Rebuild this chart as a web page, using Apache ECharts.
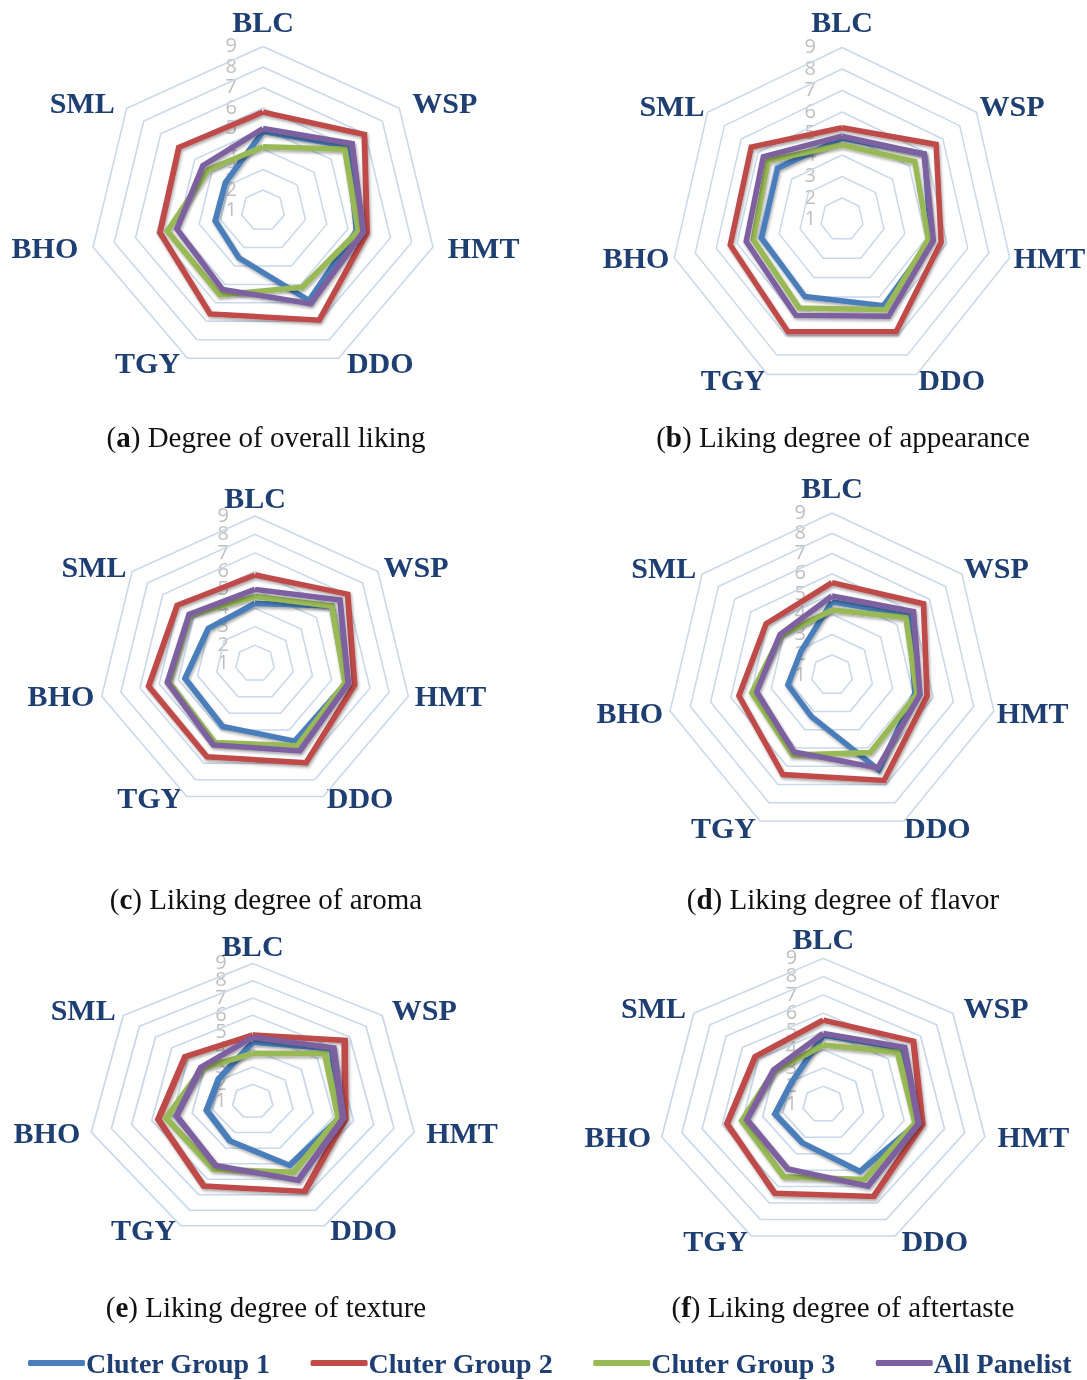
<!DOCTYPE html>
<html>
<head>
<meta charset="utf-8">
<script src="https://cdn.jsdelivr.net/npm/echarts@6/dist/echarts.min.js"></script>
<style>
  html, body { margin: 0; padding: 0; background: #ffffff; }
  #wrap { position: relative; width: 1087px; height: 1380px; overflow: hidden; }
  .layer { position: absolute; left: 0; top: 0; width: 1087px; height: 1380px; }
  .panel { pointer-events: none; }
</style>
</head>
<body>
<div id="wrap">
  <div id="main" class="layer"></div>
</div>
<script>
// Tea samples, listed clockwise from the top of each radar
const categories = ['BLC', 'WSP', 'HMT', 'DDO', 'TGY', 'BHO', 'SML'];
const groupNames = ['Cluter Group 1', 'Cluter Group 2', 'Cluter Group 3', 'All Panelist'];
const tickLabels = ['1', '2', '3', '4', '5', '6', '7', '8', '9'];

// (a) overall liking
const overallG1 = [4.85, 6.0, 5.4, 5.87, 3.56, 3.25, 3.2];
const overallG2 = [5.8, 6.95, 5.9, 6.94, 6.6, 5.85, 5.94];
const overallG3 = [4.11, 5.8, 5.49, 5.15, 5.57, 5.5, 4.2];
const overallAll = [5.0, 6.23, 5.72, 6.05, 5.28, 5.05, 4.52];

// (b) appearance
const appearanceG1 = [4.78, 5.9, 5.25, 5.45, 4.98, 4.84, 4.83];
const appearanceG2 = [5.27, 6.6, 5.73, 6.8, 6.8, 6.33, 6.4];
const appearanceG3 = [4.47, 5.33, 5.12, 5.66, 5.57, 5.23, 5.4];
const appearanceAll = [4.88, 5.88, 5.36, 6.0, 5.95, 5.57, 5.68];

// (c) aroma
const aromaG1 = [4.26, 6.0, 5.75, 5.67, 4.79, 4.65, 4.04];
const aromaG2 = [5.8, 7.03, 6.2, 6.98, 6.62, 6.55, 6.06];
const aromaG3 = [4.63, 6.0, 5.7, 5.95, 5.75, 5.5, 5.25];
const aromaAll = [5.02, 6.53, 5.87, 6.26, 5.9, 5.57, 5.28];

// (d) flavor
const flavorG1 = [4.62, 5.75, 5.1, 6.2, 3.28, 3.18, 2.9];
const flavorG2 = [5.56, 6.64, 5.7, 6.78, 6.46, 5.6, 5.06];
const flavorG3 = [4.21, 5.55, 5.2, 5.25, 5.38, 4.96, 4.15];
const flavorAll = [4.9, 6.02, 5.35, 6.09, 5.22, 4.72, 4.2];

// (e) texture
const textureG1 = [4.43, 5.9, 5.3, 5.11, 3.54, 3.28, 3.1];
const textureG2 = [4.85, 6.68, 5.59, 6.79, 6.44, 5.68, 5.17];
const textureG3 = [3.79, 5.47, 5.25, 5.55, 5.36, 5.29, 4.1];
const textureAll = [4.72, 5.99, 5.48, 6.07, 5.12, 4.77, 4.19];

// (f) aftertaste
const aftertasteG1 = [4.8, 5.9, 5.65, 5.08, 3.34, 3.39, 2.95];
const aftertasteG2 = [5.62, 6.56, 5.92, 6.6, 6.4, 5.77, 5.2];
const aftertasteG3 = [4.25, 5.59, 5.55, 5.57, 5.4, 5.03, 4.0];
const aftertasteAll = [4.89, 6.01, 5.72, 5.97, 4.93, 4.78, 4.05];

// Panel layout: centre, vertical radius, horizontal stretch of the web,
// caption anchor and the extra room each sample name gets ([top, right, bottom, left]);
// topLine (optional) tightens the line box of the name above the web
const panels = [
  { id: 'a', caption: ' Degree of overall liking', groups: [overallG1, overallG2, overallG3, overallAll],
    center: [263, 210.5], radius: 164, stretch: 1.063, captionAt: [266, 425],
    pads: { BLC: [0, 0, 3, 0], WSP: [0, 0, 2, 18], HMT: [4, 0, 0, 21], DDO: [6, 0, 0, 11],
            TGY: [6, 10, 0, 0], BHO: [4, 21, 0, 0], SML: [0, 17, 2, 0] } },
  { id: 'b', caption: ' Liking degree of appearance', groups: [appearanceG1, appearanceG2, appearanceG3, appearanceAll],
    center: [842, 219.5], radius: 172, stretch: 1.0, captionAt: [843, 425],
    pads: { BLC: [0, 0, 4, 0], WSP: [0, 0, 4, 0], HMT: [4, 0, 0, 0], DDO: [8, 0, 0, 0],
            TGY: [8, 0, 0, 0], BHO: [4, 1, 0, 0], SML: [0, 0, 4, 0] } },
  { id: 'c', caption: ' Liking degree of aroma', groups: [aromaG1, aromaG2, aromaG3, aromaAll],
    center: [255, 663.5], radius: 147.5, stretch: 1.066, captionAt: [266, 887], topLine: 24,
    pads: { BLC: [0, 0, 0, 0], WSP: [0, 0, 0, 10], HMT: [2, 0, 0, 12], DDO: [0, 0, 0, 6],
            TGY: [0, 7, 0, 0], BHO: [2, 13, 0, 0], SML: [0, 10, 0, 0] } },
  { id: 'd', caption: ' Liking degree of flavor', groups: [flavorG1, flavorG2, flavorG3, flavorAll],
    center: [832, 675], radius: 162, stretch: 1.025, captionAt: [843, 887],
    pads: { BLC: [0, 0, 4, 0], WSP: [0, 0, 3, 2], HMT: [6, 0, 0, 3], DDO: [11, 0, 0, 0],
            TGY: [11, 4, 0, 0], BHO: [6, 7, 0, 0], SML: [0, 6, 3, 0] } },
  { id: 'e', caption: ' Liking degree of texture', groups: [textureG1, textureG2, textureG3, textureAll],
    center: [252.7, 1101.5], radius: 138, stretch: 1.2, captionAt: [266, 1295], topLine: 22,
    pads: { BLC: [0, 0, 0, 0], WSP: [0, 0, 2, 28], HMT: [4, 0, 0, 35], DDO: [6, 0, 0, 16],
            TGY: [6, 15, 0, 0], BHO: [4, 34, 0, 0], SML: [0, 26, 2, 0] } },
  { id: 'f', caption: ' Liking degree of aftertaste', groups: [aftertasteG1, aftertasteG2, aftertasteG3, aftertasteAll],
    center: [823.3, 1104.4], radius: 146, stretch: 1.135, captionAt: [843, 1295], topLine: 26,
    pads: { BLC: [0, 0, 0, 0], WSP: [0, 0, 2, 23], HMT: [2, 0, 0, 28], DDO: [8, 0, 0, 13],
            TGY: [8, 10, 0, 0], BHO: [2, 26, 0, 0], SML: [0, 20, 2, 0] } }
];

const lineColors = ['#4A7EBB', '#BE4B48', '#98B954', '#7D60A0'];
const nameColor = '#1F3F73';
const serif = '"Liberation Serif", "Times New Roman", serif';
const nameFont = { color: nameColor, fontFamily: serif, fontWeight: 'bold', fontSize: 30 };
const tickMargin = 26;

// ECharts lays indicators out counter-clockwise from the top, so walk the list backwards after BLC
const ccwOrder = [0, 6, 5, 4, 3, 2, 1];

function indicatorList() {
  return ccwOrder.map(function (i) {
    return { name: categories[i], min: 1, max: 9 };
  });
}

// Names sit on an unstretched copy of each web
const labelRadars = panels.map(function (p) {
  const rich = {};
  categories.forEach(function (c) {
    rich[c] = Object.assign({ padding: p.pads[c] }, nameFont);
    if (c === 'BLC' && p.topLine) rich[c].lineHeight = p.topLine;
  });
  return {
    center: p.center,
    radius: p.radius,
    startAngle: 90,
    splitNumber: 8,
    shape: 'polygon',
    indicator: indicatorList(),
    nameGap: 4,
    axisName: Object.assign({ rich: rich, formatter: function (n) { return '{' + n + '|' + n + '}'; } }, nameFont),
    axisLabel: { show: false },
    axisLine: { show: false },
    axisTick: { show: false },
    splitArea: { show: false },
    splitLine: { show: false }
  };
});

const titles = panels.map(function (p) {
  return {
    text: '({b|' + p.id + '})' + p.caption,
    left: p.captionAt[0],
    top: p.captionAt[1],
    textAlign: 'center',
    padding: 0,
    textStyle: {
      fontFamily: serif, fontSize: 29, fontWeight: 'normal', color: '#111111',
      rich: { b: { fontFamily: serif, fontSize: 29, fontWeight: 'bold', color: '#111111' } }
    }
  };
});

const mainChart = echarts.init(document.getElementById('main'), null, { renderer: 'canvas' });
mainChart.setOption({
  animation: false,
  title: titles,
  radar: labelRadars
});

// Value labels 1..9 climb the BLC axis; place them through each radar's own scale
const tickGraphics = [];
const ecModel = mainChart.getModel();
panels.forEach(function (p, i) {
  const radarModel = ecModel.getComponent('radar', i);
  const cs = radarModel && radarModel.coordinateSystem;
  if (!cs) return;
  tickLabels.forEach(function (t) {
    const pt = cs.dataToPoint(Number(t), 0);
    tickGraphics.push({
      type: 'text',
      x: pt[0] - tickMargin,
      y: pt[1],
      silent: true,
      style: {
        text: t, fill: '#BFBFBF', fontSize: 20, fontWeight: 'normal',
        fontFamily: '"Open Sans", "Noto Sans", sans-serif',
        align: 'right', verticalAlign: 'middle'
      }
    });
  });
});
mainChart.setOption({ graphic: tickGraphics });

// Each web is drawn on its own layer so it can be widened horizontally about its centre
const wrap = document.getElementById('wrap');
panels.forEach(function (p) {
  const el = document.createElement('div');
  el.className = 'layer panel';
  el.style.transformOrigin = p.center[0] + 'px ' + p.center[1] + 'px';
  el.style.transform = 'scaleX(' + p.stretch + ')';
  wrap.appendChild(el);

  const chart = echarts.init(el, null, { renderer: 'svg' });
  const option = {
    animation: false,
    radar: {
      center: p.center,
      radius: p.radius,
      startAngle: 90,
      splitNumber: 8,
      shape: 'polygon',
      indicator: indicatorList(),
      axisName: { show: false },
      axisLabel: { show: false },
      axisLine: { show: false },
      axisTick: { show: false },
      splitArea: { show: false },
      splitLine: { lineStyle: { color: '#C9D8EA', width: 1.5 } }
    },
    series: [{
      type: 'radar',
      symbol: 'none',
      silent: true,
      data: p.groups.map(function (vals, g) {
        return {
          name: groupNames[g],
          value: ccwOrder.map(function (i) { return vals[i]; }),
          itemStyle: { color: lineColors[g] },
          lineStyle: { color: lineColors[g], width: 5.5, join: 'miter',
            shadowColor: 'rgba(0,0,0,0.35)', shadowBlur: 3, shadowOffsetX: 1, shadowOffsetY: 2 }
        };
      })
    }]
  };
  // The unstretched layer also carries the shared legend
  if (p.stretch === 1) {
    option.legend = {
      data: groupNames,
      left: 28,
      top: 1349,
      itemWidth: 57,
      itemHeight: 6,
      itemGap: 40,
      icon: 'roundRect',
      padding: 0,
      textStyle: { fontFamily: serif, fontWeight: 'bold', fontSize: 28, color: nameColor, padding: [0, 0, 0, -4] }
    };
  }
  chart.setOption(option);
});
</script>
</body>
</html>
